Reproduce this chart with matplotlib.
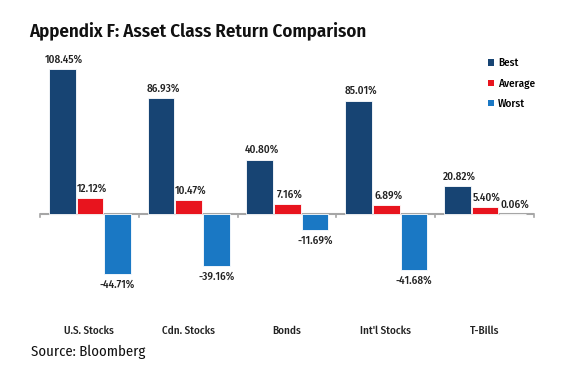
import matplotlib
matplotlib.use("Agg")
import matplotlib.pyplot as plt
import numpy as np
from matplotlib.patches import Patch

categories = ["U.S. Stocks", "Cdn. Stocks", "Bonds", "Int'l Stocks", "T-Bills"]
best = [108.45, 86.93, 40.80, 85.01, 20.82]
average = [12.12, 10.47, 7.16, 6.89, 5.40]
worst = [-44.71, -39.16, -11.69, -41.68, 0.06]
series_names = ["Best", "Average", "Worst"]
colors = ["#174473", "#E8141E", "#1A78C4"]
title = "Appendix F: Asset Class Return Comparison"
source = "Source: Bloomberg"

plt.rcParams["font.family"] = ["Fira Sans Condensed", "DejaVu Sans"]

fig = plt.figure(figsize=(5.79, 3.85), dpi=100)
ax = fig.add_axes([40/579, 1-320/385, (534-40)/579, (320-60)/385])

x = np.arange(len(categories))
w = 0.27
offs = [-0.275, 0.005, 0.285]
for vals, off, c, nm in zip([best, average, worst], offs, colors, series_names):
    bars = ax.bar(x + off, vals, w, color=c, edgecolor="white", linewidth=0.6, label=nm, zorder=2)
    for b, v in zip(bars, vals):
        if v >= 0:
            ax.annotate(f"{v:.2f}%", (b.get_x() + b.get_width()/2, v), xytext=(1.5, 3),
                        textcoords="offset points", ha="center", va="bottom",
                        fontsize=8, fontweight="medium", color="#222222")
        else:
            ax.annotate(f"{v:.2f}%", (b.get_x() + b.get_width()/2, v), xytext=(0, -4),
                        textcoords="offset points", ha="center", va="top",
                        fontsize=8, fontweight="medium", color="#222222")

ax.set_xlim(-0.5, len(categories) - 0.5)
ax.set_ylim(-79.4, 115.4)
ax.axhline(0, color="#A6A6A6", linewidth=1.5, zorder=1)
for bnd in np.arange(len(categories) + 1) - 0.5:
    ax.plot([bnd, bnd], [0, -2.2], color="#A6A6A6", linewidth=1.2, zorder=1, clip_on=False)

for s in ax.spines.values():
    s.set_visible(False)
ax.set_yticks([])
ax.set_xticks(x)
ax.set_xticklabels(categories, fontsize=8, fontweight="medium", color="#222222")
ax.tick_params(axis="x", length=0, pad=4)

handles = [Patch(facecolor=c, edgecolor="none") for c in colors]
fig.legend(handles, series_names, loc="upper left", bbox_to_anchor=(0.826, 1-48/385),
           frameon=False, prop={"weight": "medium", "size": 8},
           handlelength=0.5, handleheight=0.5, handletextpad=0.4, labelspacing=0.87)

fig.text(29/579, 1-32/385, title, fontsize=13.6, fontweight="semibold", color="#111111",
         ha="left", va="center")
fig.text(31/579, 1-352/385, source, fontsize=10.6, fontweight="normal", color="#111111",
         ha="left", va="center")

fig.savefig("out.png", dpi=100)
